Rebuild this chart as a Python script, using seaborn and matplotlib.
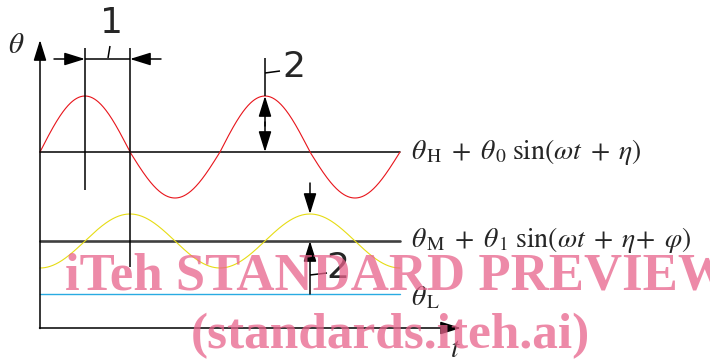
import numpy as np
import pandas as pd
import matplotlib
matplotlib.use("Agg")
import matplotlib.pyplot as plt
import seaborn as sns

# ---- data (schematic values) ----
level_names = ["H", "M", "L"]
level_values = [17.6, 8.7, 3.4]          # theta_H, theta_M, theta_L
wave_amp_up = [5.6, 2.7]                 # theta_0, theta_1 (above the level)
wave_amp_down = [4.6, 2.7]               # depth below the level, as drawn
wave_phase_deg = [0.0, -90.0]            # eta, eta + phi
wave_names = ["upper", "middle"]
period_deg = 360.0
t_start, t_end = 0.0, 720.0
label_texts = [r"$\theta_{\,\mathrm{H}}\;+\;\theta_{\,0}\;\sin(\omega t\;+\;\eta)$",
               r"$\theta_{\,\mathrm{M}}\;+\;\theta_{\,1}\;\sin(\omega t\;+\;\eta\!+\;\varphi)$",
               r"$\theta_{\,\mathrm{L}}$"]
dim_labels = ["1", "2", "2"]
watermark_lines = ["iTeh STANDARD PREVIEW", "(standards.iteh.ai)"]

sns.set_theme(style="white")
plt.rcParams["mathtext.fontset"] = "stix"

fig = plt.figure(figsize=(7.10, 3.63), dpi=100)
ax = fig.add_axes([0, 0, 1, 1])
ax.set_xlim(-80, 1340)
ax.set_ylim(-3.5, 32.8)
ax.axis("off")

# pixel -> data helpers for layout
def T(px):
    return (px - 40) * 2.0

def Y(py):
    return (328 - py) / 10.0

t = np.linspace(t_start, t_end, 721)
rows = []
for name, lvl in zip(level_names, level_values):
    rows.append(pd.DataFrame({"t": [t_start, t_end], "theta": [lvl, lvl], "series": "level " + name}))
for name, lvl, up, dn, ph in zip(wave_names, level_values[:2], wave_amp_up, wave_amp_down, wave_phase_deg):
    s = np.sin(np.deg2rad(t + ph) * 360.0 / period_deg)
    rows.append(pd.DataFrame({"t": t, "theta": lvl + np.where(s > 0, up, dn) * s, "series": name}))
df = pd.concat(rows, ignore_index=True)

palette = {"level H": "#000000", "level M": "#404040", "level L": "#29abe2",
           "upper": "#e8141b", "middle": "#e6dc14"}
widths = {"level H": 1.1, "level M": 1.9, "level L": 1.0, "upper": 0.8, "middle": 0.8}
for s in ["level L", "level M", "level H", "middle", "upper"]:
    sns.lineplot(data=df[df.series == s], x="t", y="theta", color=palette[s],
                 lw=widths[s], ax=ax, legend=False, estimator=None, sort=False)

arrow = dict(arrowstyle="-|>,head_length=0.9,head_width=0.28", color="black",
             lw=1.1, shrinkA=0, shrinkB=0, mutation_scale=14)
k = dict(color="black", lw=1.1, solid_capstyle="butt")

# axes arrows
ax.annotate("", xy=(0, Y(40)), xytext=(0, Y(328.5)), arrowprops=arrow)
ax.annotate("", xy=(T(461), 0), xytext=(T(39.5), 0), arrowprops=arrow)
ax.text(T(16), Y(45), r"$\theta$", fontsize=21, ha="center", va="center")
ax.text(T(455), Y(349), r"$t$", fontsize=21, ha="center", va="center")

# period dimension (1)
peak_t = period_deg / 4
zero_t = period_deg / 2
ax.plot([peak_t, peak_t], [Y(48), Y(190)], **k)
ax.plot([zero_t, zero_t], [Y(48), Y(267)], **k)
ax.plot([peak_t, zero_t], [Y(59), Y(59)], **k)
ax.annotate("", xy=(peak_t, Y(59)), xytext=(T(54), Y(59)), arrowprops=arrow)
ax.annotate("", xy=(zero_t, Y(59)), xytext=(T(161), Y(59)), arrowprops=arrow)
ax.plot([T(108), T(110)], [Y(58), Y(46)], **k)
ax.text(T(112), Y(23), dim_labels[0], fontsize=26, ha="center", va="center", family="DejaVu Sans")

# amplitude dimension (2) upper
tu = peak_t + period_deg
ax.plot([tu, tu], [Y(58), level_values[0] + wave_amp_up[0]], **k)
ax.annotate("", xy=(tu, level_values[0] + wave_amp_up[0]), xytext=(tu, level_values[0] + 2.6), arrowprops=arrow)
ax.annotate("", xy=(tu, level_values[0]), xytext=(tu, level_values[0] + 3.0), arrowprops=arrow)
ax.plot([tu, T(280)], [Y(73), Y(71)], **k)
ax.text(T(294), Y(67), dim_labels[1], fontsize=26, ha="center", va="center", family="DejaVu Sans")

# amplitude dimension (2) middle
tm = zero_t + period_deg
ax.annotate("", xy=(tm, level_values[1] + wave_amp_up[1]), xytext=(tm, Y(183)), arrowprops=arrow)
ax.annotate("", xy=(tm, level_values[1]), xytext=(tm, level_values[2]), arrowprops=arrow)
ax.plot([tm, T(327)], [Y(275), Y(273)], **k)
ax.text(T(338), Y(268), dim_labels[2], fontsize=26, ha="center", va="center", family="DejaVu Sans")

# level labels
ax.text(T(411), Y(152), label_texts[0], fontsize=20, ha="left", va="center")
ax.text(T(411), Y(240), label_texts[1], fontsize=20, ha="left", va="center")
ax.text(T(411), Y(297), label_texts[2], fontsize=20, ha="left", va="center")

# watermark
wm = dict(family="Liberation Serif", weight="bold", color=(232/255, 99/255, 139/255), alpha=0.75, zorder=10)
ax.text(T(65), Y(277), watermark_lines[0], fontsize=38, ha="left", va="center", **wm)
ax.text(T(390), Y(336), watermark_lines[1], fontsize=37, ha="center", va="center", **wm)

fig.savefig("out.png", dpi=100)
